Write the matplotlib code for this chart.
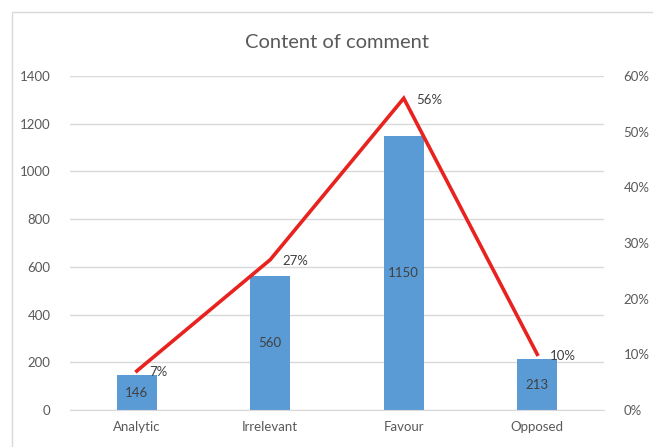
import matplotlib
matplotlib.use("Agg")
import matplotlib.pyplot as plt
from matplotlib.patches import Rectangle
from matplotlib.ticker import FuncFormatter

categories = ["Analytic", "Irrelevant", "Favour", "Opposed"]
counts = [146, 560, 1150, 213]
shares = [0.07, 0.27, 0.56, 0.10]
share_labels = ["7%", "27%", "56%", "10%"]
left_ticks = [0, 200, 400, 600, 800, 1000, 1200, 1400]
right_ticks = [0, 0.1, 0.2, 0.3, 0.4, 0.5, 0.6]

plt.rcParams['font.family'] = ['Lato', 'DejaVu Sans']
W, H = 653, 447
fig = plt.figure(figsize=(W / 100, H / 100), dpi=100)
fig.patch.set_facecolor("white")

# chart border (extends past right and bottom edges)
fig.patches.append(Rectangle((12 / W, -0.05), 1.0, 1 - 12 / H + 0.05,
                             transform=fig.transFigure, fill=False,
                             edgecolor="#d9d9d9", linewidth=1.0))

left, right, top, bottom = 70, 604, 76, 410
ax = fig.add_axes([left / W, 1 - bottom / H, (right - left) / W, (bottom - top) / H])
x = list(range(len(categories)))

ax.set_ylim(0, 1400)
ax.set_xlim(-0.5, len(categories) - 0.5)
ax.set_yticks(left_ticks)
ax.yaxis.grid(True, color="#d9d9d9", linewidth=1.0)
ax.set_axisbelow(True)
for s in ax.spines.values():
    s.set_visible(False)
ax.spines['bottom'].set_visible(True)
ax.spines['bottom'].set_color("#d9d9d9")
ax.tick_params(axis='both', length=0, colors="#595959", labelsize=9.5)
ax.tick_params(axis='y', pad=14)
ax.tick_params(axis='x', pad=8)
ax.set_xticks(x)
ax.set_xticklabels(categories)

bars = ax.bar(x, counts, width=0.3, color="#5B9BD5", zorder=2)
for xi, c in zip(x, counts):
    ax.text(xi, c / 2, str(c), ha="center", va="center", fontsize=9.5, color="#404040", zorder=3)

ax2 = ax.twinx()
ax2.set_ylim(0, 0.6)
ax2.set_yticks(right_ticks)
ax2.yaxis.set_major_formatter(FuncFormatter(lambda v, p: f"{v*100:.0f}%"))
for s in ax2.spines.values():
    s.set_visible(False)
ax2.tick_params(axis='y', length=0, colors="#595959", labelsize=9.5, pad=14)
ax2.plot(x, shares, color="#E8231F", linewidth=2.6, zorder=4, solid_joinstyle='miter')
for xi, s, lab in zip(x, shares, share_labels):
    ax2.annotate(lab, (xi, s), xytext=(9, -1), textcoords="offset points",
                 ha="left", va="center", fontsize=9.5, color="#404040")

fig.text(337 / W, 1 - 43 / H, "Content of comment", ha="center", va="center",
         fontsize=14.5, color="#595959")

fig.savefig("out.png", dpi=100)
